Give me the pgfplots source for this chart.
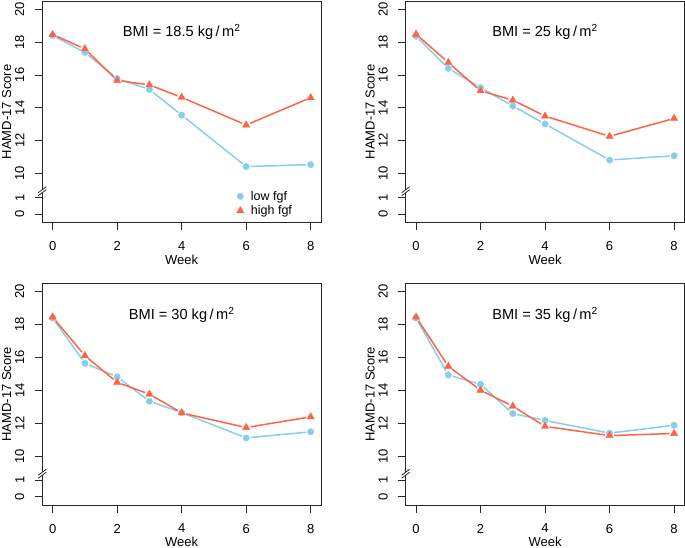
\documentclass[border=0pt]{standalone}
\usepackage{pgfplots}
\usepackage{pgfplotstable}
\pgfplotsset{compat=1.18}
\usepackage{fontspec}
\setmainfont{Liberation Sans}
\definecolor{sky}{RGB}{135,206,235}
\definecolor{tom}{RGB}{255,99,71}

% columns: week, low fgf, high fgf, next week, next low, next high
\pgfplotstableread{
x lo hi nx nlo nhi
0 18.40 18.46 1 17.37 17.59
1 17.37 17.59 2 15.79 15.67
2 15.79 15.67 3 15.12 15.40
3 15.12 15.40 4 13.56 14.64
4 13.56 14.64 6 10.43 12.96
6 10.43 12.96 8 10.55 14.62
8 10.55 14.62 8 10.55 14.62
}\tA
\pgfplotstableread{
x lo hi nx nlo nhi
0 18.36 18.48 1 16.40 16.76
1 16.40 16.76 2 15.24 15.04
2 15.24 15.04 3 14.11 14.47
3 14.11 14.47 4 13.02 13.50
4 13.02 13.50 6 10.83 12.27
6 10.83 12.27 8 11.09 13.36
8 11.09 13.36 8 11.09 13.36
}\tB
\pgfplotstableread{
x lo hi nx nlo nhi
0 18.40 18.46 1 15.65 16.11
1 15.65 16.11 2 14.82 14.49
2 14.82 14.49 3 13.34 13.77
3 13.34 13.77 4 12.65 12.63
4 12.65 12.63 6 11.11 11.74
6 11.11 11.74 8 11.48 12.39
8 11.48 12.39 8 11.48 12.39
}\tC
\pgfplotstableread{
x lo hi nx nlo nhi
0 18.40 18.46 1 14.94 15.47
1 14.94 15.47 2 14.37 14.01
2 14.37 14.01 3 12.59 13.04
3 12.59 13.04 4 12.17 11.81
4 12.17 11.81 6 11.40 11.25
6 11.40 11.25 8 11.88 11.38
8 11.88 11.38 8 11.88 11.38
}\tD

\pgfplotsset{
  panel/.style={
    scale only axis, width=278.7bp, height=221.5bp,
    xmin=-0.32, xmax=8.32, ymin=-0.5, ymax=12.97,
    xtick={0,2,4,6,8},
    ytick={0,1,2.47,4.47,6.47,8.47,10.47,12.47},
    yticklabels={0,1,10,12,14,16,18,20},
    tick align=outside, major tick length=7.5bp,
    xtick pos=bottom, ytick pos=left,
    axis line style={line width=0.8bp, black!85},
    every tick/.style={line width=0.8bp, black!85},
    /pgf/number format/assume math mode=true,
    ticklabel style={font=\fontsize{13bp}{15bp}\selectfont},
    yticklabel style={rotate=90, anchor=south},
    xticklabel style={anchor=north},
    xticklabel shift=8bp, yticklabel shift=7bp,
    xlabel={Week}, ylabel={HAMD-17 Score},
    every axis x label/.style={at={([yshift=-37bp]axis description cs:0.5,0)}, anchor=center, font=\fontsize{13bp}{15bp}\selectfont},
    every axis y label/.style={at={([xshift=-35.6bp]axis description cs:0,0.5)}, rotate=90, anchor=center, font=\fontsize{13bp}{15bp}\selectfont},
    y filter/.code={\pgfmathparse{\pgfmathresult-7.53}},
  },
  seg/.style 2 args={line width=1.5bp, -, forget plot, skip coords between index={6}{7},
    quiver={u=\thisrow{nx}-\thisrow{x}, v=\thisrow{#1}-\thisrow{#2},
      every arrow/.append style={shorten <=4.5bp, shorten >=4.5bp}}},
  lom/.style={only marks, mark=*, sky, mark size=3.2bp},
  him/.style={only marks, mark=triangle*, tom, mark size=4.2bp},
}
\newcommand{\bmi}[1]{\node[font=\fontsize{14.6bp}{16bp}\selectfont] at (axis cs:4,11.07) {BMI = #1 kg\,/\,m\textsuperscript{2}};}
\newcommand{\brk}[1]{%
  \fill[white] ([xshift=-4bp,yshift=26.8bp]#1.south west) -- ([xshift=4bp,yshift=32.8bp]#1.south west) -- ([xshift=4bp,yshift=35.8bp]#1.south west) -- ([xshift=-4bp,yshift=29.8bp]#1.south west) -- cycle;
  \draw[line width=0.8bp, black!85] ([xshift=-4bp,yshift=26.8bp]#1.south west) -- ([xshift=4bp,yshift=32.8bp]#1.south west);
  \draw[line width=0.8bp, black!85] ([xshift=-4bp,yshift=29.8bp]#1.south west) -- ([xshift=4bp,yshift=35.8bp]#1.south west);
}

\begin{document}
\begin{tikzpicture}
\useasboundingbox (0,0) rectangle (685bp,548bp);

\begin{axis}[panel, name=pA, at={(42.3bp,325.5bp)}, anchor=south west,
  legend style={draw=none, fill=none, at={(axis cs:5.70,1.55)}, anchor=north west,
    font=\fontsize{12.5bp}{14bp}\selectfont, row sep=0bp, inner sep=0pt},
  legend cell align=left]
\addplot[sky, seg={nlo}{lo}] table[x=x, y=lo] {\tA};
\addplot[lom] table[x=x, y=lo] {\tA};
\addlegendentry{\hspace*{5bp}low fgf}
\addplot[tom, seg={nhi}{hi}] table[x=x, y=hi] {\tA};
\addplot[him] table[x=x, y=hi] {\tA};
\addlegendentry{\hspace*{5bp}high fgf}
\bmi{18.5}
\end{axis}
\brk{pA}

\begin{axis}[panel, name=pB, at={(405.7bp,325.5bp)}, anchor=south west]
\addplot[sky, seg={nlo}{lo}] table[x=x, y=lo] {\tB};
\addplot[lom] table[x=x, y=lo] {\tB};
\addplot[tom, seg={nhi}{hi}] table[x=x, y=hi] {\tB};
\addplot[him] table[x=x, y=hi] {\tB};
\bmi{25}
\end{axis}
\brk{pB}

\begin{axis}[panel, name=pC, at={(42.3bp,43bp)}, anchor=south west]
\addplot[sky, seg={nlo}{lo}] table[x=x, y=lo] {\tC};
\addplot[lom] table[x=x, y=lo] {\tC};
\addplot[tom, seg={nhi}{hi}] table[x=x, y=hi] {\tC};
\addplot[him] table[x=x, y=hi] {\tC};
\bmi{30}
\end{axis}
\brk{pC}

\begin{axis}[panel, name=pD, at={(405.7bp,43bp)}, anchor=south west]
\addplot[sky, seg={nlo}{lo}] table[x=x, y=lo] {\tD};
\addplot[lom] table[x=x, y=lo] {\tD};
\addplot[tom, seg={nhi}{hi}] table[x=x, y=hi] {\tD};
\addplot[him] table[x=x, y=hi] {\tD};
\bmi{35}
\end{axis}
\brk{pD}
\end{tikzpicture}
\end{document}
